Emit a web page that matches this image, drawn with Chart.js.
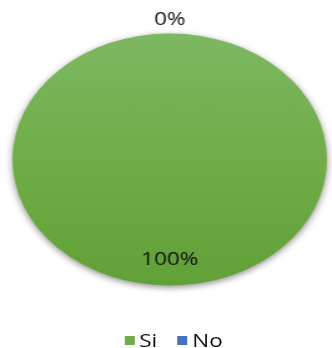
<!DOCTYPE html>
<html>
<head>
<meta charset="utf-8">
<script src="https://cdn.jsdelivr.net/npm/chart.js@4/dist/chart.umd.min.js"></script>
<style>
  html, body { margin: 0; padding: 0; background: #fff; }
  #wrap { width: 332px; height: 348px; overflow: hidden; position: relative; }
  /* todo se dibuja angosto y se estira a lo ancho, asi el pastel queda ovalado */
  #lienzo { position: relative; width: 266px; height: 348px; transform: scale(1.248, 1); transform-origin: 0 0; }
  #grafico { display: block; }
  #leyenda {
    position: absolute; left: 0; top: 329px; width: 266px;
    display: flex; justify-content: center; padding-left: 12px; box-sizing: border-box;
    font: 18px/22px "Open Sans", sans-serif; color: #111;
  }
  #leyenda .item { display: flex; align-items: center; margin: 0 8px; }
  #leyenda .caja { width: 8px; height: 9px; margin-right: 4px; }
</style>
</head>
<body>
<div id="wrap">
  <div id="lienzo">
    <canvas id="grafico" width="266" height="348"></canvas>
    <div id="leyenda"></div>
  </div>
</div>
<script>
const categorias = ['Si', 'No'];
const valores = [100, 0];
const colores = ['#70ad47', '#4472c4'];

document.addEventListener('DOMContentLoaded', () => {
    const ctx = document.getElementById('grafico').getContext('2d');
    const leyenda = document.getElementById('leyenda');
    const RADIO = 126;

    // el sector "Si" lleva un degradado verde de arriba hacia abajo
    function relleno(context) {
        const i = context.dataIndex;
        const chart = context.chart;
        const area = chart.chartArea;
        if (i !== 0 || !area) return colores[i] || colores[0];
        const cy = (area.top + area.bottom) / 2;
        const g = chart.ctx.createLinearGradient(0, cy - RADIO, 0, cy + RADIO);
        g.addColorStop(0, '#7db862');
        g.addColorStop(0.5, '#6fad47');
        g.addColorStop(1, '#62a137');
        return g;
    }

    const sombra = {
        id: 'sombra',
        beforeDatasetsDraw(chart) {
            const c = chart.ctx;
            c.save();
            c.shadowColor = 'rgba(0, 0, 0, 0.45)';
            c.shadowBlur = 6;
            c.shadowOffsetY = 2;
        },
        afterDatasetsDraw(chart) {
            chart.ctx.restore();
        }
    };

    // porcentajes: fuera del borde si el sector es 0, dentro si no
    const etiquetas = {
        id: 'etiquetas',
        afterDatasetsDraw(chart) {
            const c = chart.ctx;
            const datos = chart.data.datasets[0].data;
            const total = datos.reduce((a, b) => a + b, 0);
            const meta = chart.getDatasetMeta(0);
            c.save();
            c.font = '18px "Open Sans", sans-serif';
            c.fillStyle = '#111';
            c.textAlign = 'center';
            c.textBaseline = 'middle';
            meta.data.forEach((arc, i) => {
                const p = arc.getProps(['x', 'y', 'startAngle', 'endAngle', 'outerRadius'], true);
                const medio = (p.startAngle + p.endAngle) / 2;
                const pct = Math.round(datos[i] / total * 100);
                const r = pct === 0 ? p.outerRadius + 14 : p.outerRadius * 0.8;
                c.fillText(pct + '%', p.x + Math.cos(medio) * r, p.y + Math.sin(medio) * r);
            });
            c.restore();
        }
    };

    // leyenda en html, armada con los items que genera el propio grafico
    const leyendaHtml = {
        id: 'leyendaHtml',
        afterUpdate(chart) {
            const items = chart.options.plugins.legend.labels.generateLabels(chart);
            leyenda.innerHTML = '';
            items.forEach(item => {
                const div = document.createElement('div');
                div.className = 'item';
                const caja = document.createElement('span');
                caja.className = 'caja';
                caja.style.background = colores[item.index];
                div.appendChild(caja);
                div.appendChild(document.createTextNode(item.text));
                leyenda.appendChild(div);
            });
        }
    };

    new Chart(ctx, {
        type: 'pie',
        data: {
            labels: categorias,
            datasets: [{
                data: valores,
                backgroundColor: relleno,
                borderWidth: 0,
                radius: RADIO
            }]
        },
        options: {
            responsive: false,
            animation: false,
            events: [],
            layout: { padding: { left: 6, right: 0, top: 0, bottom: 29 } },
            plugins: {
                tooltip: { enabled: false },
                legend: { display: false }
            }
        },
        plugins: [sombra, etiquetas, leyendaHtml]
    });
});
</script>
</body>
</html>
